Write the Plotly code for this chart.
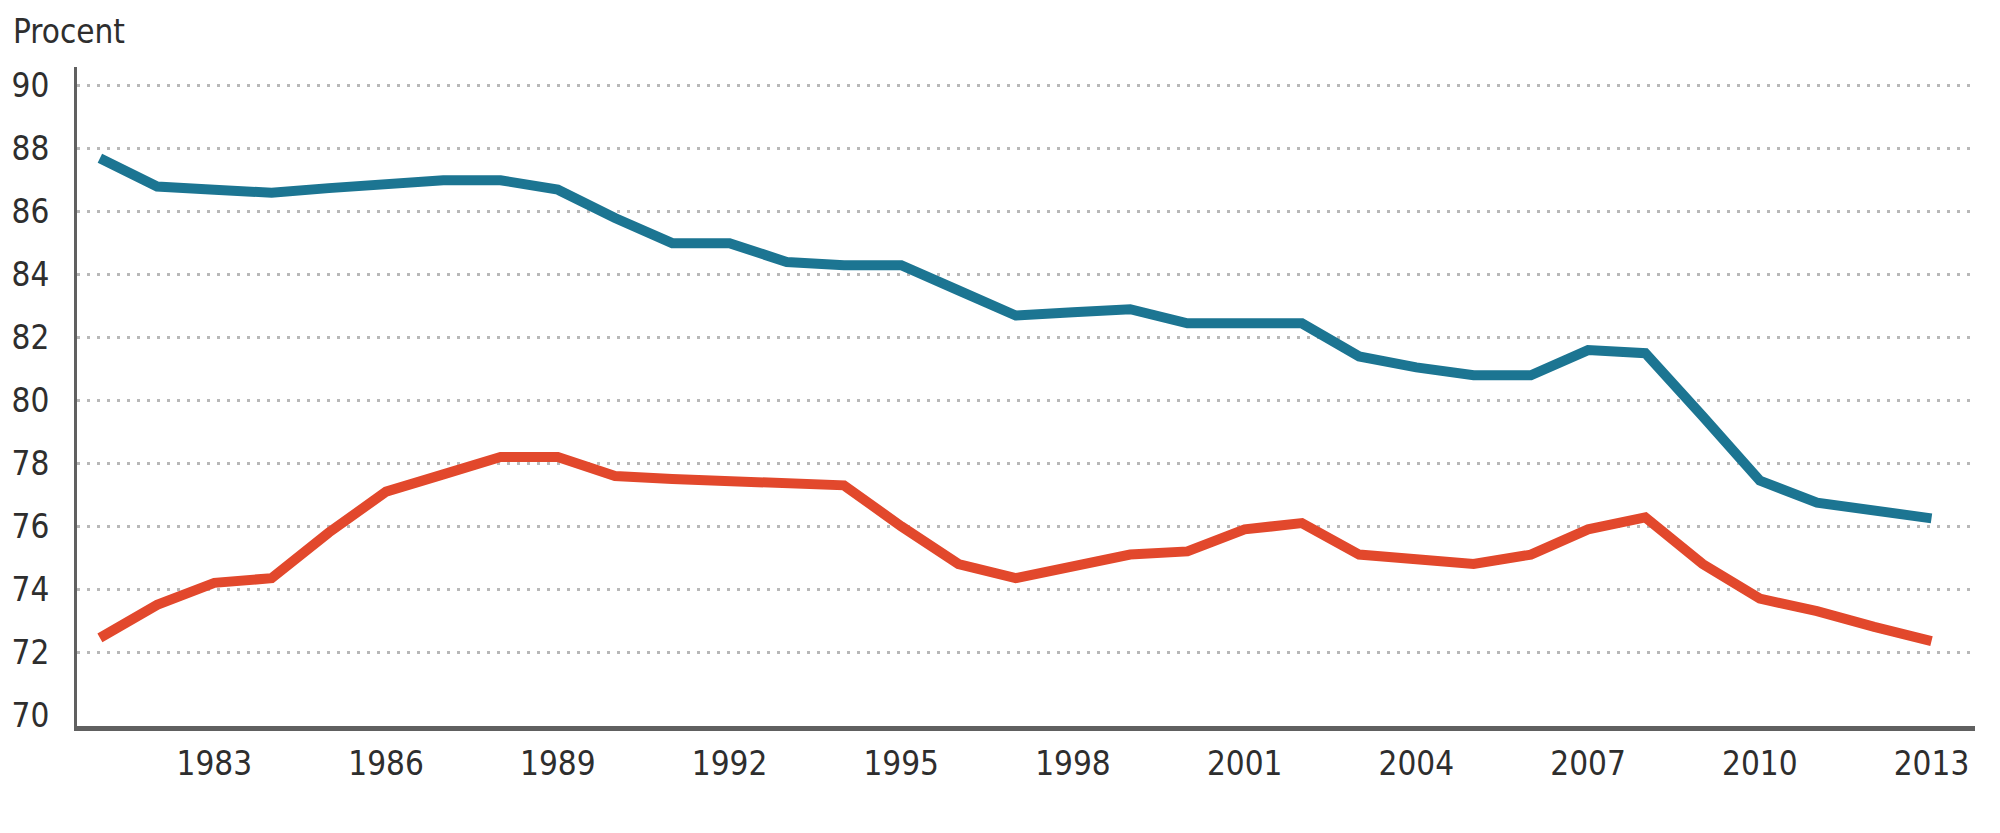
import plotly.graph_objects as go

years = list(range(1981, 2014))
blue_values = [87.7, 86.8, 86.7, 86.6, 86.75, 86.9, 87.0, 87.0, 86.7, 85.8,
               85.0, 85.0, 84.4, 84.3, 84.3, 83.5, 82.7, 82.8, 82.9, 82.45,
               82.45, 82.45, 81.4, 81.05, 80.8, 80.8, 81.6, 81.5, 79.5, 77.45,
               76.75, 76.5, 76.25]
red_values = [72.45, 73.5, 74.2, 74.35, 75.8, 77.1, 77.65, 78.2, 78.2, 77.6,
              77.5, 77.45, 77.4, 77.3, 76.0, 74.8, 74.35, 74.75, 75.1, 75.2,
              75.9, 76.1, 75.1, 74.95, 74.8, 75.1, 75.9, 76.28, 74.8, 73.7,
              73.3, 72.8, 72.35]
x_ticks = [1983, 1986, 1989, 1992, 1995, 1998, 2001, 2004, 2007, 2010, 2013]
y_ticks = [70, 72, 74, 76, 78, 80, 82, 84, 86, 88, 90]
grid_values = [72, 74, 76, 78, 80, 82, 84, 86, 88, 90]

FONT = "DejaVu Sans Condensed, DejaVu Sans, sans-serif"
TXT = "#2e2e2e"

fig = go.Figure()
# invisible helper trace to activate the grid-only axis
fig.add_trace(go.Scatter(x=[years[0]], y=[grid_values[0]], yaxis="y2",
                         mode="markers", marker=dict(opacity=0),
                         hoverinfo="skip", showlegend=False))
fig.add_trace(go.Scatter(x=years, y=blue_values, mode="lines",
                         line=dict(color="#1c7592", width=10),
                         showlegend=False))
fig.add_trace(go.Scatter(x=years, y=red_values, mode="lines",
                         line=dict(color="#e2482c", width=10),
                         showlegend=False))

yr = [69.65, 90.6]
fig.update_layout(
    # page body has an 8px default margin, so the figure is 8px smaller
    width=1992, height=825,
    paper_bgcolor="white", plot_bgcolor="rgba(0,0,0,0)",
    margin=dict(l=69, r=25, t=59, b=107),
    font=dict(family=FONT, color=TXT, size=33),
    xaxis=dict(range=[1980.6, 2013.76], tickvals=x_ticks, automargin=False,
               showgrid=False, zeroline=False,
               showline=True, linecolor="#606060", linewidth=5,
               ticks="", ticklabelstandoff=4,
               tickfont=dict(family=FONT, size=33, color=TXT)),
    yaxis=dict(range=yr, tickvals=y_ticks, showgrid=False, zeroline=False,
               automargin=False,
               showline=True, linecolor="#606060", linewidth=3,
               ticks="", ticklabelstandoff=18,
               tickfont=dict(family=FONT, size=33, color=TXT)),
    yaxis2=dict(range=yr, overlaying="y", tickvals=grid_values,
                automargin=False,
                showticklabels=False, showgrid=True,
                gridcolor="#b8b8b8", gridwidth=3, griddash="3px,7px",
                zeroline=False, showline=False, ticks=""),
    annotations=[dict(text="Procent", xref="paper", yref="paper",
                      x=0, y=1, xanchor="left", yanchor="middle",
                      xshift=-66, yshift=36, showarrow=False,
                      font=dict(family=FONT, size=33, color=TXT))],
)

fig.write_html("out.html")
